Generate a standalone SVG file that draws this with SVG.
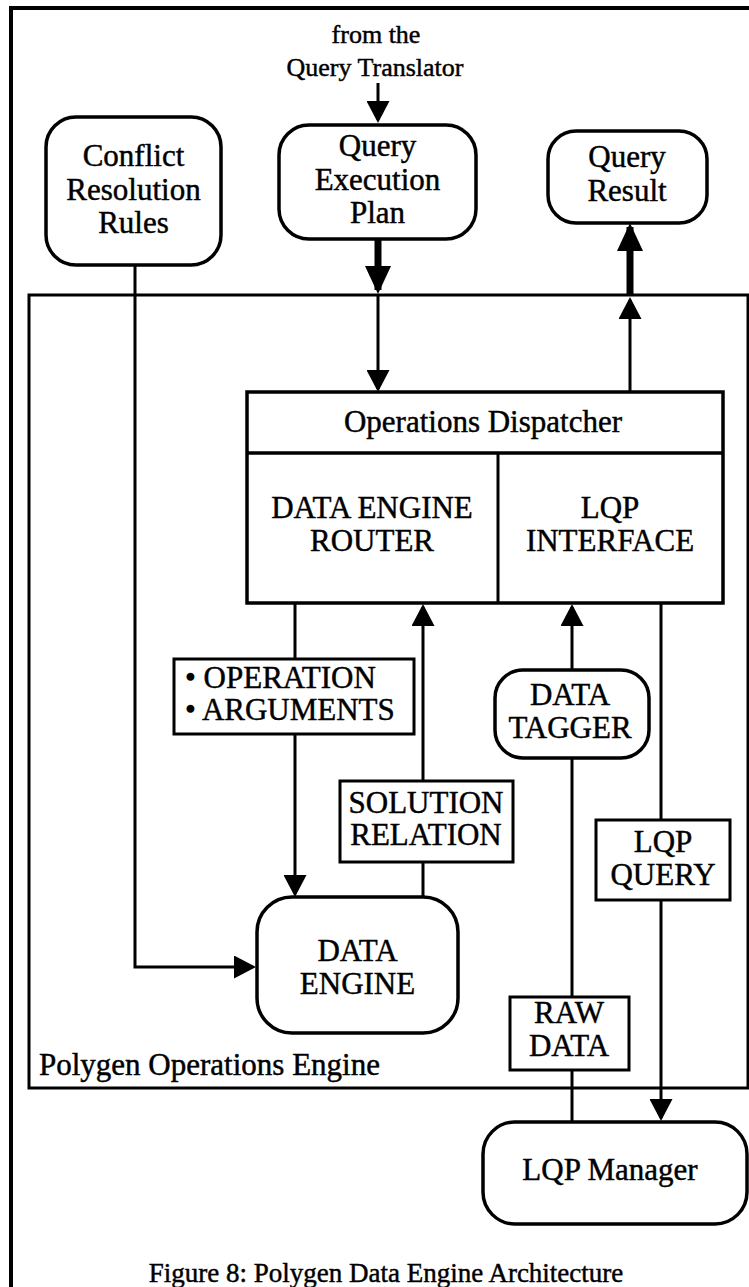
<svg xmlns="http://www.w3.org/2000/svg" width="749" height="1287" viewBox="0 0 749 1287">
<style>
.bg{fill:#fff}
.frame{fill:none;stroke:#000;stroke-width:4}
.node{fill:#fff;stroke:#000;stroke-width:3.5}
.box{fill:#fff;stroke:#000;stroke-width:3}
.ln{fill:none;stroke:#000;stroke-width:3}
.thick{fill:none;stroke:#000;stroke-width:7}
text{font-family:"Liberation Serif","Times New Roman",serif;font-size:31px;fill:#000;stroke:#000;stroke-width:0.45;text-anchor:middle}
.sm{font-size:26px}
.cap{font-size:27px}
.left{text-anchor:start}
</style>
<defs>
<marker id="ah" markerUnits="userSpaceOnUse" markerWidth="22" markerHeight="23" refX="19" refY="11.5" orient="auto" viewBox="0 0 22 23">
<path d="M0,0 L22,11.5 L0,23 z" fill="#000"/>
</marker>
<marker id="ahT" markerUnits="userSpaceOnUse" markerWidth="28" markerHeight="26" refX="24" refY="13" orient="auto" viewBox="0 0 28 26">
<path d="M0,0 L28,13 L0,26 z" fill="#000"/>
</marker>
</defs>
<rect class="bg" x="0" y="0" width="749" height="1287"/>
<rect id="outer-frame" class="frame" x="11" y="8" width="800" height="1320"/>

<g id="polygon-operations-engine">
<rect class="box" x="29" y="295" width="719" height="793"/>
<text class="left" x="39" y="1075">Polygen Operations Engine</text>
</g>

<g id="connectors">
<line class="ln" x1="378" y1="83" x2="378" y2="120" marker-end="url(#ah)"/>
<line class="thick" x1="378" y1="239" x2="378" y2="290" marker-end="url(#ahT)"/>
<line class="ln" x1="378" y1="295" x2="378" y2="389" marker-end="url(#ah)"/>
<line class="thick" x1="630" y1="294" x2="630" y2="227" marker-end="url(#ahT)"/>
<line class="ln" x1="630" y1="392" x2="630" y2="300" marker-end="url(#ah)"/>
<polyline class="ln" points="135,265 135,967 253,967" marker-end="url(#ah)"/>
<line class="ln" x1="295" y1="603" x2="295" y2="659"/>
<line class="ln" x1="295" y1="734" x2="295" y2="894" marker-end="url(#ah)"/>
<line class="ln" x1="423" y1="897" x2="423" y2="862"/>
<line class="ln" x1="423" y1="781" x2="423" y2="607" marker-end="url(#ah)"/>
<line class="ln" x1="572" y1="1122" x2="572" y2="1070"/>
<line class="ln" x1="572" y1="997" x2="572" y2="758"/>
<line class="ln" x1="572" y1="670" x2="572" y2="607" marker-end="url(#ah)"/>
<line class="ln" x1="661" y1="603" x2="661" y2="820"/>
<line class="ln" x1="661" y1="900" x2="661" y2="1118" marker-end="url(#ah)"/>
</g>

<g id="from-query-translator">
<text class="sm" x="376" y="43">from the</text>
<text class="sm" x="375" y="76">Query Translator</text>
</g>

<g id="conflict-resolution-rules">
<rect class="node" x="46" y="117" width="175" height="148" rx="30"/>
<text x="133.5" y="166">Conflict</text>
<text x="133.5" y="200">Resolution</text>
<text x="133.5" y="233">Rules</text>
</g>

<g id="query-execution-plan">
<rect class="node" x="279" y="125" width="197" height="114" rx="30"/>
<text x="377.5" y="156">Query</text>
<text x="377.5" y="190">Execution</text>
<text x="377.5" y="223">Plan</text>
</g>

<g id="query-result">
<rect class="node" x="548" y="131" width="159" height="92" rx="28"/>
<text x="627" y="167">Query</text>
<text x="627" y="201">Result</text>
</g>

<g id="operations-dispatcher">
<rect class="node" x="247" y="392" width="476" height="211"/>
<line class="ln" x1="247" y1="453" x2="723" y2="453" style="stroke-width:3.5"/>
<line class="ln" x1="498" y1="453" x2="498" y2="603"/>
<text x="483" y="432">Operations Dispatcher</text>
</g>

<g id="data-engine-router">
<text x="372" y="518">DATA ENGINE</text>
<text x="372" y="551">ROUTER</text>
</g>

<g id="lqp-interface">
<text x="610" y="518">LQP</text>
<text x="610" y="551">INTERFACE</text>
</g>

<g id="operation-arguments">
<rect class="box" x="174" y="659" width="240" height="75"/>
<text class="left" x="185" y="688">• OPERATION</text>
<text class="left" x="185" y="720">• ARGUMENTS</text>
</g>

<g id="solution-relation">
<rect class="box" x="340" y="781" width="173" height="81"/>
<text x="426" y="813">SOLUTION</text>
<text x="426" y="845">RELATION</text>
</g>

<g id="data-tagger">
<rect class="node" x="495" y="670" width="154" height="88" rx="28"/>
<text x="570" y="705">DATA</text>
<text x="570" y="738">TAGGER</text>
</g>

<g id="lqp-query">
<rect class="box" x="596" y="820" width="134" height="80"/>
<text x="663" y="852">LQP</text>
<text x="663" y="885">QUERY</text>
</g>

<g id="data-engine">
<rect class="node" x="257" y="897" width="201" height="136" rx="35"/>
<text x="357.5" y="961">DATA</text>
<text x="357.5" y="994">ENGINE</text>
</g>

<g id="raw-data">
<rect class="box" x="510" y="997" width="119" height="73"/>
<text x="569" y="1023">RAW</text>
<text x="569" y="1056">DATA</text>
</g>

<g id="lqp-manager">
<rect class="node" x="483" y="1122" width="264" height="102" rx="32"/>
<text x="610" y="1180">LQP Manager</text>
</g>

<g id="caption">
<text class="cap" x="386" y="1282">Figure 8: Polygen Data Engine Architecture</text>
</g>
</svg>
